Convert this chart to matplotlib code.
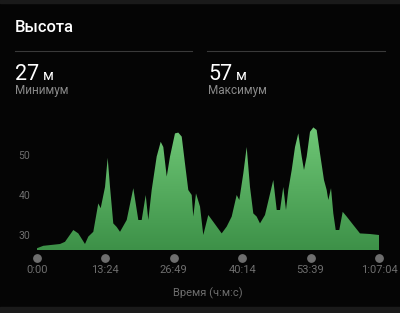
import numpy as np
import matplotlib.pyplot as plt
from matplotlib.colors import LinearSegmentedColormap

plt.rcParams['font.family'] = ['Roboto', 'DejaVu Sans']

# Профиль высоты: время (мин) и высота (м)
minutes = [0.0, 1.24, 4.51, 5.49, 7.12, 8.10, 9.41, 10.06, 11.04, 12.02, 12.49,
           13.34, 13.86, 14.32, 14.96, 15.63, 16.28, 17.59, 18.89, 19.87, 20.53,
           21.32, 21.83, 22.49, 23.47, 24.26, 24.77, 25.44, 26.08, 27.06, 27.71,
           28.38, 29.02, 29.67, 30.34, 30.65, 31.18, 31.97, 32.61, 33.59, 34.57,
           36.22, 37.20, 38.18, 39.16, 39.67, 40.46, 41.12, 41.77, 42.42, 43.08,
           43.73, 44.71, 46.34, 47.01, 47.66, 48.30, 48.83, 49.28, 49.95, 50.60,
           51.24, 51.91, 52.36, 52.89, 53.54, 54.19, 54.85, 55.50, 56.28, 56.81,
           57.13, 57.66, 58.11, 58.58, 59.28, 59.95, 60.74, 62.03, 63.34, 65.30,
           67.07]
altitude = [26.7, 27.3, 27.75, 28.3, 31.25, 30.4, 27.75, 29.6, 30.8, 37.9, 36.7,
            42.0, 49.3, 42.0, 32.9, 32.0, 30.8, 33.75, 41.7, 33.75, 33.75,
            40.0, 33.75, 41.25, 49.6, 53.3, 52.0, 44.6, 49.6, 55.4, 55.6,
            54.6, 47.9, 41.25, 40.0, 34.6, 40.4, 37.1, 30.0, 35.0, 33.3,
            30.4, 32.1, 34.6, 40.0, 38.75, 45.4, 52.0, 42.0, 35.4, 34.6,
            32.9, 35.0, 43.75, 36.25, 36.25, 42.0, 36.25, 41.25, 46.25, 52.0,
            55.4, 49.6, 46.25, 49.6, 55.8, 56.9, 56.25, 50.4, 43.75, 41.25,
            38.75, 41.7, 35.4, 31.25, 31.25, 35.8, 34.6, 32.5, 30.4, 30.25,
            30.0]

x_ticks = [0, 13.41, 26.82, 40.23, 53.64, 67.07]
x_labels = ['0:00', '13:24', '26:49', '40:14', '53:39', '1:07:04']
y_ticks = [30, 40, 50]

min_alt = 27
max_alt = 57

bg = '#050505'
fig = plt.figure(figsize=(4.0, 3.13), dpi=100, facecolor=bg)

# полосы соседних карточек сверху и снизу
fig.patches.append(plt.Rectangle((0, 0), 1, 6 / 313, transform=fig.transFigure,
                                 color='#1a1a1a', zorder=0))
fig.patches.append(plt.Rectangle((0, 1 - 3 / 313), 1, 3 / 313, transform=fig.transFigure,
                                 color='#1a1a1a', zorder=0))

fig.text(15 / 400, 1 - 28 / 313, 'Высота', color='white', fontsize=12,
         fontweight='medium', va='center', ha='left')

# разделительные линии
fig.add_artist(plt.Line2D([15 / 400, 192 / 400], [1 - 51 / 313] * 2, color='#3a3a3a', lw=0.8))
fig.add_artist(plt.Line2D([207 / 400, 385 / 400], [1 - 51 / 313] * 2, color='#3a3a3a', lw=0.8))

for xpos, val, lab in [(15, min_alt, 'Минимум'), (208, max_alt, 'Максимум')]:
    t = fig.text(xpos / 400, 1 - 80 / 313, str(val), color='white', fontsize=15.5,
                 va='baseline', ha='left')
    fig.canvas.draw()
    bb = t.get_window_extent()
    fig.text((bb.x1 + 4) / 400, 1 - 80 / 313, 'м', color='white', fontsize=10.5,
             va='baseline', ha='left')
    fig.text(xpos / 400, 1 - 90.5 / 313, lab, color='#8a8a8a', fontsize=8.5,
             va='center', ha='left')

ax = fig.add_axes([37 / 400, 63 / 313, 342 / 400, 127 / 313])
ax.set_facecolor(bg)
ax.set_xlim(0, 67.07)
ax.set_ylim(26.25, 58)

# заливка с градиентом
poly = ax.fill_between(minutes, altitude, 26.25, color='none', lw=0)
cmap = LinearSegmentedColormap.from_list('g', ['#3d9148', '#6fc776'])
grad = np.linspace(0, 1, 256).reshape(-1, 1)
img = ax.imshow(grad, cmap=cmap, aspect='auto', origin='lower',
                extent=[0, 67.07, 26.25, 57], zorder=1)
img.set_clip_path(poly.get_paths()[0], transform=ax.transData)

for s in ax.spines.values():
    s.set_visible(False)

ax.set_yticks(y_ticks)
ax.set_yticklabels([str(v) for v in y_ticks])
ax.tick_params(axis='y', length=0, pad=5, labelsize=7.5, labelcolor='#6e6e6e')
ax.set_xticks(x_ticks)
ax.set_xticklabels(x_labels)
ax.tick_params(axis='x', length=0, pad=10.5, labelsize=8, labelcolor='#6e6e6e')

ax.scatter(x_ticks, [-8 / 127] * len(x_ticks), s=28, color='#6e6e6e',
           transform=ax.get_xaxis_transform(), clip_on=False, zorder=3)

fig.text(208 / 400, 1 - 293 / 313, 'Время (ч:м:с)', color='#6e6e6e', fontsize=8,
         ha='center', va='center')

fig.savefig('out.png', dpi=100, facecolor=bg)
